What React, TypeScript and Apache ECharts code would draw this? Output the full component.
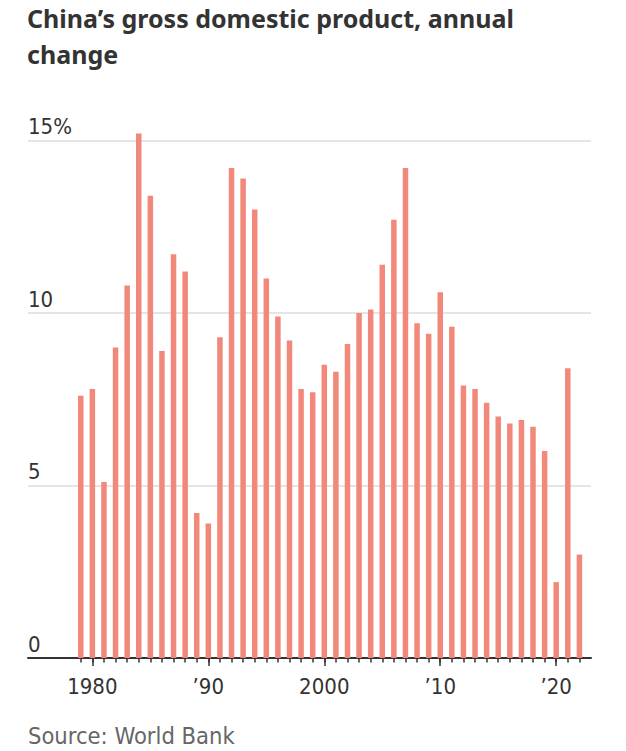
import React, { useEffect, useRef } from 'react';
import * as echarts from 'echarts';

const years = [
  1979, 1980, 1981, 1982, 1983, 1984, 1985, 1986, 1987, 1988, 1989,
  1990, 1991, 1992, 1993, 1994, 1995, 1996, 1997, 1998, 1999,
  2000, 2001, 2002, 2003, 2004, 2005, 2006, 2007, 2008, 2009,
  2010, 2011, 2012, 2013, 2014, 2015, 2016, 2017, 2018, 2019,
  2020, 2021, 2022,
];
const growth = [
  7.6, 7.8, 5.1, 9.0, 10.8, 15.2, 13.4, 8.9, 11.7, 11.2, 4.2,
  3.9, 9.3, 14.2, 13.9, 13.0, 11.0, 9.9, 9.2, 7.8, 7.7,
  8.5, 8.3, 9.1, 10.0, 10.1, 11.4, 12.7, 14.2, 9.7, 9.4,
  10.6, 9.6, 7.9, 7.8, 7.4, 7.0, 6.8, 6.9, 6.7, 6.0,
  2.2, 8.4, 3.0,
];
const majorTicks = [1980, 1990, 2000, 2010, 2020];
const majorTickLabels = ['1980', '\u201990', '2000', '\u201910', '\u201920'];
const yTicks = [0, 5, 10, 15];
const yTickLabels = ['0', '5', '10', '15%'];

const TITLE = 'China\u2019s gross domestic product, annual\nchange';
const SOURCE = 'Source: World Bank';

const NARROW = "'DejaVu Sans Condensed', 'DejaVu Sans', sans-serif";

export default function App() {
  const ref = useRef<HTMLDivElement>(null);
  useEffect(() => {
    document.body.style.margin = '0';
    if (!ref.current) return;
    const chart = echarts.init(ref.current, null, { renderer: 'svg' });
    const xMin = 1974.45;
    const xMax = 2023;
    chart.setOption({
      animation: false,
      backgroundColor: '#ffffff',
      title: {
        text: TITLE,
        left: 27,
        top: 0,
        padding: 0,
        textStyle: {
          fontFamily: "'Noto Sans', sans-serif",
          fontWeight: 'bold',
          fontSize: 25,
          lineHeight: 36,
          color: '#333333',
        },
      },
      grid: {
        left: 28,
        right: 35,
        top: 140.5,
        bottom: 93,
        containLabel: false,
        outerBoundsMode: 'none',
      },
      xAxis: [
        {
          type: 'value',
          min: xMin,
          max: xMax,
          splitLine: { show: false },
          axisLine: { show: true, onZero: false, lineStyle: { color: '#333333', width: 2 } },
          axisTick: {
            show: true,
            customValues: years,
            length: 4.5,
            lineStyle: { color: '#333333', width: 1.5 },
          },
          axisLabel: { show: false },
        },
        {
          type: 'value',
          position: 'bottom',
          min: xMin,
          max: xMax,
          splitLine: { show: false },
          axisLine: { show: false },
          axisTick: {
            show: true,
            customValues: majorTicks,
            length: 8,
            lineStyle: { color: '#333333', width: 1.5 },
          },
          axisLabel: {
            show: true,
            customValues: majorTicks,
            margin: 17,
            fontFamily: NARROW,
            fontSize: 22,
            color: '#333333',
            formatter: (v: number) => {
              const i = majorTicks.indexOf(Math.round(v));
              return i >= 0 ? majorTickLabels[i] : '';
            },
          },
        },
      ],
      yAxis: {
        type: 'value',
        min: 0,
        max: 15,
        interval: 5,
        axisLine: { show: false },
        axisTick: { show: false },
        splitLine: { show: true, lineStyle: { color: '#dddddd', width: 1.5 } },
        axisLabel: {
          inside: true,
          margin: 0,
          verticalAlign: 'bottom',
          padding: [0, 0, 3, 0],
          fontFamily: NARROW,
          fontSize: 22,
          color: '#333333',
          formatter: (v: number) => {
            const i = yTicks.indexOf(v);
            return i >= 0 ? yTickLabels[i] : '';
          },
        },
      },
      series: [
        {
          type: 'bar',
          xAxisIndex: 0,
          clip: false,
          barWidth: 5.5,
          itemStyle: { color: '#F2887A' },
          data: years.map((y, i) => [y, growth[i]]),
          z: 1,
        },
      ],
      graphic: [
        {
          type: 'text',
          x: 28,
          y: 736,
          style: {
            text: SOURCE,
            fontFamily: NARROW,
            fontSize: 23.5,
            fill: '#666666',
            verticalAlign: 'middle',
            align: 'left',
          },
        },
      ],
    });
    return () => chart.dispose();
  }, []);
  return <div ref={ref} style={{ width: 626, height: 751 }} />;
}
